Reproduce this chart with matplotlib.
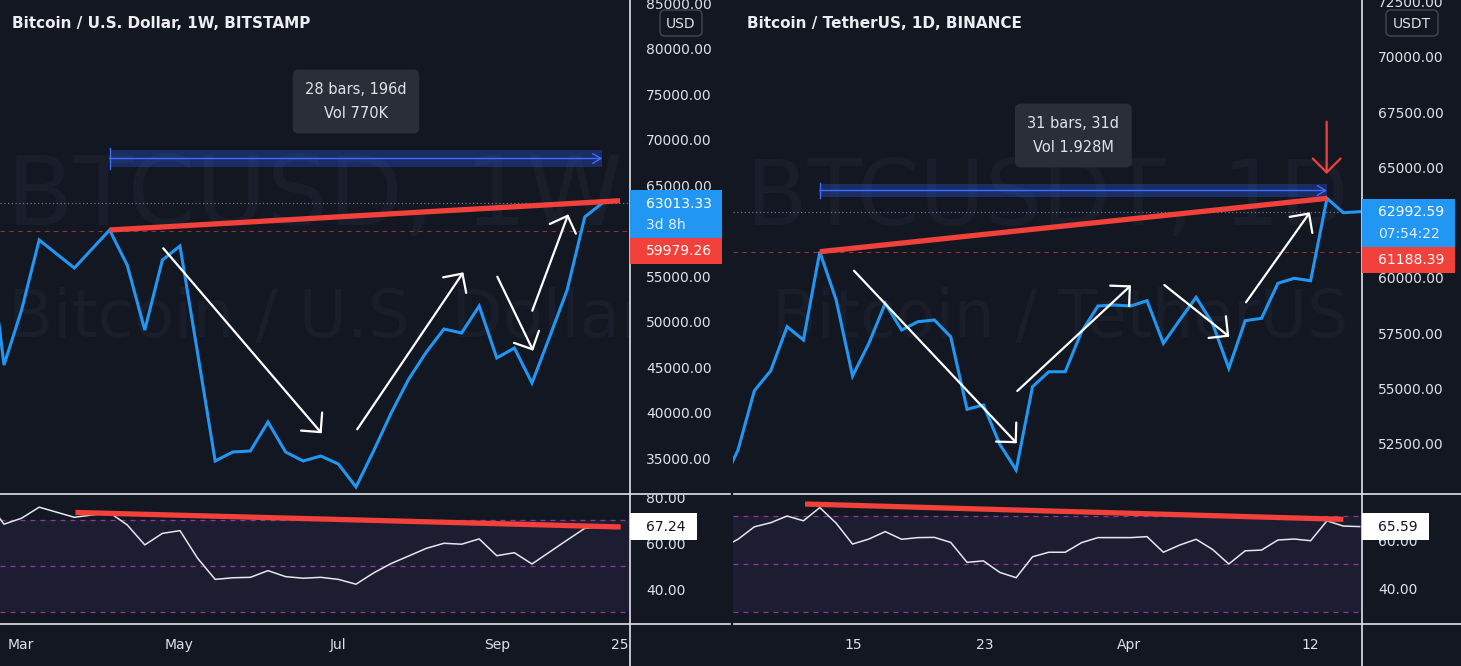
import matplotlib
matplotlib.use("Agg")
import matplotlib.pyplot as plt
from matplotlib.patches import Rectangle, FancyBboxPatch

W, H = 1461, 666
BG = "#131722"
TXT = "#dfe1e8"
BLUE = "#2196f3"
RED = "#f2413a"
WM = "#1a1e2a"
BAND = "#2962ff"

plt.rcParams["font.family"] = ["DejaVu Sans"]

# ---------------- left chart: BTCUSD 1W (bar index -1 .. 34)
usd_bars = list(range(-1, 35))
usd_close = [61150, 45220, 51264, 58956, 57418, 55879, 57967, 60055, 56209, 49066,
             56758, 58297, 46538, 34670, 35659, 35769, 38956, 35659, 34670, 35220,
             34341, 31813, 35769, 39945, 43681, 46648, 49176, 48736, 51703, 45989,
             47088, 43242, 48297, 53461, 61483, 63013.33]
usd_rsi = [78.8, 68.3, 70.9, 75.7, 73.5, 71.3, 72.3, 73.3, 68.0, 59.3,
           64.3, 65.5, 53.5, 44.3, 45.0, 45.2, 48.1, 45.5, 44.8, 45.2,
           44.3, 42.2, 47.1, 51.2, 54.5, 57.8, 60.0, 59.6, 61.9, 54.6,
           55.9, 51.0, 56.2, 61.4, 66.5, 67.24]
usd_prev_close = 59979.26
usd_dates = ["Mar", "May", "Jul", "Sep", "25"]
usd_date_pos = [0.97, 9.94, 19.0, 28.0, 35.0]
# 60000 sits under the price labels, so it is not shown
usd_price_ticks = [35000, 40000, 45000, 50000, 55000, 65000, 70000, 75000, 80000, 85000]
usd_rsi_ticks = [40, 60, 80]
usd_trend = [(6, 60055), (35.0, 63275)]
usd_rsi_trend = [(4.06, 73.4), (35.04, 67.1)]
usd_range = (6, 34, 66978, 68846)          # bar from, bar to, low, high
usd_range_text = "28 bars, 196d\nVol 770K"
usd_range_label_y = 74176
usd_arrows = [((9.05, 58044), (18.05, 37714)),
              ((20.07, 38154), (26.10, 55407)),
              ((28.03, 54923), (30.07, 46791)),
              ((30.02, 51187), (32.06, 61780))]

# ---------------- right chart: BTCUSDT 1D (bar index -1 .. 38)
usdt_bars = list(range(-1, 39))
usdt_close = [50637, 52219, 54900, 55804, 57794, 57192, 61184, 59001, 55565, 57043,
              58851, 57644, 58020, 58096, 57341, 54059, 54254, 52477, 51315, 55081,
              55759, 55759, 57567, 58729, 58775, 58729, 58969, 57043, 58096, 59123,
              57947, 55913, 58065, 58173, 59756, 59982, 59873, 63598, 62947, 62992.59]
usdt_rsi = [56.7, 60.3, 65.5, 67.2, 70.0, 68.0, 73.5, 67.0, 58.3, 60.4,
            63.5, 60.3, 61.0, 61.1, 59.0, 50.7, 51.3, 46.5, 44.3, 53.0,
            54.9, 54.9, 58.9, 61.0, 61.0, 61.0, 61.4, 54.9, 57.9, 60.3,
            56.1, 50.0, 55.5, 55.8, 60.0, 60.4, 59.7, 68.0, 65.8, 65.59]
usdt_prev_close = 61188.39
usdt_dates = ["15", "23", "Apr", "12"]
usdt_date_pos = [7.06, 15.06, 23.9, 35.0]
# 62500 sits under the price labels, so it is not shown
usdt_price_ticks = [52500, 55000, 57500, 60000, 65000, 67500, 70000, 72500]
usdt_rsi_ticks = [40, 60]
usdt_trend = [(5, 61184), (36, 63598)]
usdt_rsi_trend = [(4.1, 75.0), (37.0, 68.6)]
usdt_range = (5, 36, 63657, 64245)
usdt_range_text = "31 bars, 31d\nVol 1.928M"
usdt_range_label_y = 66438
usdt_arrows = [((7.09, 60325), (17.04, 52522)),
               ((17.07, 54887), (24.02, 59665)),
               ((26.06, 59679), (30.03, 57341)),
               ((31.05, 58897), (34.96, 62966))]
usdt_red_arrow = ((35.98, 67062), (35.98, 64697))

fig = plt.figure(figsize=(W / 100, H / 100), dpi=100, facecolor=BG)

ARROW = "->,head_length=1.0,head_width=1.0"


def px_axes(x0, y0, x1, y1):
    return fig.add_axes([x0 / W, 1 - y1 / H, (x1 - x0) / W, (y1 - y0) / H])


def base_style(ax, pad):
    ax.set_facecolor(BG)
    for s in ax.spines.values():
        s.set_visible(False)
    ax.yaxis.tick_right()
    ax.tick_params(axis="y", length=0, labelsize=10, colors=TXT, pad=pad)
    ax.tick_params(axis="x", length=0, labelsize=10, colors=TXT, pad=10)


def price_panel(ax, bars, close, prev, ticks, trend, rng, rng_text, rng_y,
                arrows, wm1, wm2, wm1_size, wm2_size):
    ax.set_yticks(ticks)
    ax.set_yticklabels([f"{t:.2f}" for t in ticks])
    ax.set_xticks([])
    ax.text(0.5, 0.5445, wm1, transform=ax.transAxes, ha="center", va="baseline",
            fontsize=wm1_size, color=WM, zorder=0.5, clip_on=True)
    ax.text(0.52, 0.318, wm2, transform=ax.transAxes, ha="center", va="baseline",
            fontsize=wm2_size, color=WM, zorder=0.5, clip_on=True)
    ax.axhline(close[-1], color="#7b8db5", lw=0.9, ls=(0, (1, 2)), alpha=0.8, zorder=1)
    ax.axhline(prev, color=RED, lw=0.8, ls=(0, (4, 4)), alpha=0.6, zorder=1)
    # date range measurement
    b0, b1, lo, hi = rng
    ax.fill_between([b0, b1], [lo, lo], [hi, hi], color=BAND, alpha=0.3, lw=0, zorder=1.5)
    mid = (lo + hi) / 2
    ax.plot([b0, b0], [lo - (hi - lo) * 0.1, hi + (hi - lo) * 0.1], color="#3f6cff", lw=1, zorder=1.6)
    ax.annotate("", xy=(b1, mid), xytext=(b0, mid),
                arrowprops=dict(arrowstyle="->,head_length=0.6,head_width=0.35",
                                color="#3f6cff", lw=1, shrinkA=0, shrinkB=0), zorder=1.6)
    ax.text((b0 + b1) / 2, rng_y, rng_text, ha="center", va="center", fontsize=10.5,
            color=TXT, linespacing=1.75, zorder=5,
            bbox=dict(boxstyle="round,pad=0.85,rounding_size=0.4", fc="#2a2e39", ec="none"))
    ax.plot(bars, close, color=BLUE, lw=2.2, zorder=3, solid_joinstyle="miter")
    ax.plot([p[0] for p in trend], [p[1] for p in trend], color=RED, lw=3.8,
            solid_capstyle="butt", zorder=4)
    for start, tip in arrows:
        ax.annotate("", xy=tip, xytext=start,
                    arrowprops=dict(arrowstyle=ARROW, color="white", lw=1.6,
                                    shrinkA=0, shrinkB=0), zorder=4)


def rsi_panel(ax, bars, rsi, trend, ticks, dates, pos):
    ax.axhspan(30, 70, color="#7e57c2", alpha=0.1, lw=0, zorder=0.5)
    for lvl in (70, 50, 30):
        ax.axhline(lvl, color="#a33cae", lw=0.9, ls=(0, (4, 4)), alpha=0.85, zorder=1)
    ax.plot(bars, rsi, color="#e6e6ee", lw=1.1, zorder=3)
    ax.plot([p[0] for p in trend], [p[1] for p in trend], color=RED, lw=3.8,
            solid_capstyle="butt", zorder=4)
    ax.set_yticks(ticks)
    ax.set_yticklabels([f"{t:.2f}" for t in ticks])
    ax.set_xticks(pos)
    ax.set_xticklabels(dates)


# left chart axes
axL = px_axes(0, 0, 630, 494)
base_style(axL, 11.5)
price_panel(axL, usd_bars, usd_close, usd_prev_close, usd_price_ticks, usd_trend,
            usd_range, usd_range_text, usd_range_label_y, usd_arrows,
            "BTCUSD, 1W", "Bitcoin / U.S. Dollar", 70, 47.5)
axL.set_xlim(-0.227, 35.57)
axL.set_ylim(31044, 85330)
rL = px_axes(0, 494, 630, 624)
base_style(rL, 11.5)
rsi_panel(rL, usd_bars, usd_rsi, usd_rsi_trend, usd_rsi_ticks, usd_dates, usd_date_pos)
rL.set_xlim(-0.227, 35.57)
rL.set_ylim(24.9, 81.43)

# right chart axes
axR = px_axes(733, 0, 1362, 494)
base_style(axR, 11.5)
price_panel(axR, usdt_bars, usdt_close, usdt_prev_close, usdt_price_ticks, usdt_trend,
            usdt_range, usdt_range_text, usdt_range_label_y, usdt_arrows,
            "BTCUSDT, 1D", "Bitcoin / TetherUS", 64.5, 46.7)
axR.annotate("", xy=usdt_red_arrow[1], xytext=usdt_red_arrow[0],
             arrowprops=dict(arrowstyle=ARROW, color=RED, lw=1.6,
                             shrinkA=0, shrinkB=0), zorder=4)
axR.set_xlim(-0.306, 38.14)
axR.set_ylim(50230, 72564)
rR = px_axes(733, 494, 1362, 624)
base_style(rR, 11.5)
rsi_panel(rR, usdt_bars, usdt_rsi, usdt_rsi_trend, usdt_rsi_ticks, usdt_dates, usdt_date_pos)
rR.set_xlim(-0.306, 38.14)
rR.set_ylim(25.0, 79.17)

# overlay in pixel coordinates (y downward) for separators and scale labels
ov = fig.add_axes([0, 0, 1, 1])
ov.set_xlim(0, W)
ov.set_ylim(H, 0)
ov.axis("off")
ov.patch.set_visible(False)


def ypix(ax, v):
    return H - ax.transData.transform((0, v))[1]


# hide the part of the RSI 80 label that runs into the price pane
ov.add_patch(Rectangle((631, 480), 99, 15, fc=BG, ec="none", zorder=1))

SEP = "#e0e3eb"
for x0, x1, xs in ((0, 730, 630), (734, W, 1362)):
    ov.plot([x0, x1], [494, 494], color=SEP, lw=1.2, zorder=2)
    ov.plot([x0, x1], [624, 624], color=SEP, lw=1.2, zorder=2)
    ov.plot([xs, xs], [0, H], color=SEP, lw=1.2, zorder=2)

# titles
ov.text(12, 24, "Bitcoin / U.S. Dollar, 1W, BITSTAMP", fontsize=11, fontweight="bold",
        color="#eceef3", ha="left", va="center", zorder=3)
ov.text(747, 24, "Bitcoin / TetherUS, 1D, BINANCE", fontsize=11, fontweight="bold",
        color="#eceef3", ha="left", va="center", zorder=3)

# currency boxes
for cx, label, wdt in ((681, "USD", 42), (1412, "USDT", 52)):
    ov.add_patch(FancyBboxPatch((cx - wdt / 2, 10), wdt, 26,
                                boxstyle="round,pad=0,rounding_size=5",
                                fc=BG, ec="#434651", lw=1, zorder=3))
    ov.text(cx, 23.5, label, fontsize=10, color=TXT, ha="center", va="center", zorder=4)


def price_labels(ax, x0, wdt, last, timer, prev):
    y = ypix(ax, last)
    ov.add_patch(Rectangle((x0, y - 13), wdt, 48, fc=BLUE, ec="none", zorder=3))
    ov.text(x0 + 16, y + 0.5, f"{last:.2f}", fontsize=10, color="white",
            ha="left", va="center", zorder=4)
    ov.text(x0 + 16, y + 22, timer, fontsize=10, color="#e3f1fd",
            ha="left", va="center", zorder=4)
    ov.add_patch(Rectangle((x0, y + 35), wdt, 26, fc=RED, ec="none", zorder=3))
    ov.text(x0 + 16, y + 48, f"{prev:.2f}", fontsize=10, color="white",
            ha="left", va="center", zorder=4)


def rsi_label(ax, x0, v):
    y = ypix(ax, v)
    ov.add_patch(Rectangle((x0, y - 13.5), 67, 27, fc="white", ec="none", zorder=3))
    ov.text(x0 + 16, y + 0.5, f"{v:.2f}", fontsize=10, color=BG,
            ha="left", va="center", zorder=4)


price_labels(axL, 630, 92, usd_close[-1], "3d 8h", usd_prev_close)
price_labels(axR, 1362, 93, usdt_close[-1], "07:54:22", usdt_prev_close)
rsi_label(rL, 630, usd_rsi[-1])
rsi_label(rR, 1362, usdt_rsi[-1])

fig.savefig("out.png", dpi=100, facecolor=BG)
